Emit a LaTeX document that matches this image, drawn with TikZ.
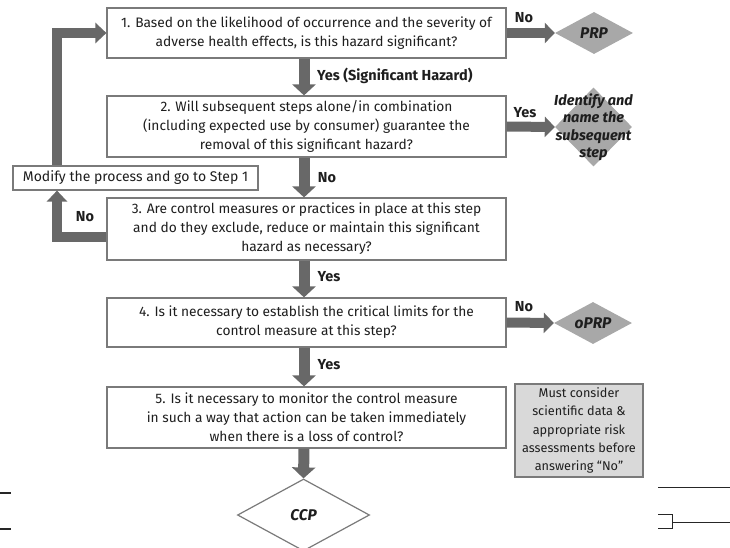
\documentclass[tikz,border=0pt]{standalone}
\usepackage{fontspec}
\setmainfont{Fira Sans}
\usetikzlibrary{arrows.meta,shapes.geometric}

\definecolor{arrowgray}{HTML}{686868}
\definecolor{boxline}{HTML}{7A7A7A}
\definecolor{diafill}{HTML}{A8A8A8}
\definecolor{notefill}{HTML}{D9D9D9}
\definecolor{ink}{HTML}{1E1E1E}

\begin{document}
\begin{tikzpicture}[x=1pt,y=-1pt,
  every node/.style={text=ink},
  stepbox/.style={draw=boxline, line width=1.2pt, fill=white, rectangle,
    inner sep=0pt, align=center, minimum width=399pt,
    font=\fontsize{13.75}{19}\selectfont},
  sidebox/.style={draw=boxline, line width=1.2pt, fill=white, rectangle,
    inner sep=0pt, align=center, font=\fontsize{14}{16}\selectfont},
  notebox/.style={draw=boxline, line width=1.6pt, fill=notefill, rectangle,
    inner sep=0pt, align=center, font=\fontsize{12.7}{18.2}\selectfont},
  outcome/.style={diamond, fill=diafill, inner sep=0pt,
    label={[font=\bfseries\itshape\fontsize{14.5}{17.5}\selectfont, align=center, text=ink]center:#1}},
  endpoint/.style={diamond, draw=boxline, line width=1.2pt, fill=white, inner sep=0pt,
    font=\bfseries\itshape\fontsize{15.5}{17}\selectfont},
  lab/.style={font=\bfseries\fontsize{14.5}{16}\selectfont, inner sep=0pt},
  flow/.style={draw=arrowgray, line width=11pt, -{Triangle[width=23pt,length=11pt]}},
  branch/.style={draw=arrowgray, line width=10pt, -{Triangle[width=20pt,length=10pt]}},
  back/.style={draw=arrowgray, line width=10pt, -{Triangle[width=20pt,length=11pt]}},
  stray/.style={draw=black!85, line width=1pt},
]
\useasboundingbox (0,0) rectangle (730,548);

% reference columns
\coordinate (spine) at (304,0);
\coordinate (loopx) at (57,0);

% decision steps
\node[stepbox, minimum height=50pt] (b1) at (306.5,33)
  {1. Based on the likelihood of occurrence and the severity of\\adverse health effects, is this hazard significant?};
\node[stepbox, minimum height=61pt] (b2) at (306.5,126.5)
  {2. Will subsequent steps alone/in combination\\(including expected use by consumer) guarantee the\\removal of this significant hazard?};
\node[stepbox, minimum height=62pt] (b3) at (306.5,229)
  {3. Are control measures or practices in place at this step\\and do they exclude, reduce or maintain this significant\\hazard as necessary?};
\node[stepbox, minimum height=49pt] (b4) at (306.5,322.5)
  {4. Is it necessary to establish the critical limits for the\\control measure at this step?};
\node[stepbox, minimum height=61pt] (b5) at (306.5,417.5)
  {5. Is it necessary to monitor the control measure\\in such a way that action can be taken immediately\\when there is a loss of control?};

\node[sidebox, minimum width=245pt, minimum height=24pt] (modify) at (135.5,178)
  {Modify the process and go to Step 1};

\node[notebox, minimum width=128pt, minimum height=93pt] (note) at (579,430.5)
  {Must consider\\scientific data \&\\appropriate risk\\assessments before\\answering “No”};

% outcomes
\node[outcome={\fontsize{15.5}{17}\selectfont PRP}, minimum width=78pt, minimum height=42pt] (prp) at (594,33) {};
\node[outcome={Identify and\\name the\\subsequent\\step}, minimum width=77pt, minimum height=79pt] (ident) at (593.5,127) {};
\node[outcome={\fontsize{15.5}{17}\selectfont oPRP}, minimum width=78pt, minimum height=42pt] (oprp) at (593,323) {};
\node[endpoint, minimum width=132pt, minimum height=72pt] (ccp) at (303.5,515) {CCP};

% main flow
\draw[flow] (b1.south -| spine) -- (b2.north -| spine);
\draw[flow] (b2.south -| spine) -- (b3.north -| spine);
\draw[flow] (b3.south -| spine) -- (b4.north -| spine);
\draw[flow] (b4.south -| spine) -- (b5.north -| spine);
\draw[flow] (b5.south -| spine) -- (ccp.north);

% side branches
\draw[branch] (b1.east) -- (prp.west);
\draw[branch] (b2.east) -- (ident.west);
\draw[branch] (b4.east) -- (oprp.west);

% loop back to step 1
\draw[back] (b3.west |- 0,237) -| (modify.south -| loopx);
\draw[back] (modify.north -| loopx) |- (b1.west);

% branch labels
\node[lab] at (524,18) {No};
\node[lab, anchor=west] at (317,76) {Yes (Significant Hazard)};
\node[lab] at (525,113) {Yes};
\node[lab] at (327,178) {No};
\node[lab] at (85,217) {No};
\node[lab] at (329,277) {Yes};
\node[lab] at (524,307) {No};
\node[lab] at (329,365) {Yes};

% edge rules
\draw[stray, line width=1.6pt] (0,493) -- (11,493);
\draw[stray, line width=1.6pt] (0,529) -- (11,529);
\draw[stray] (658,487) -- (730,487);
\draw[stray] (658,514) -- (672,514) -- (672,528) -- (658,528);
\draw[stray] (672,522) -- (730,522);
\end{tikzpicture}
\end{document}
